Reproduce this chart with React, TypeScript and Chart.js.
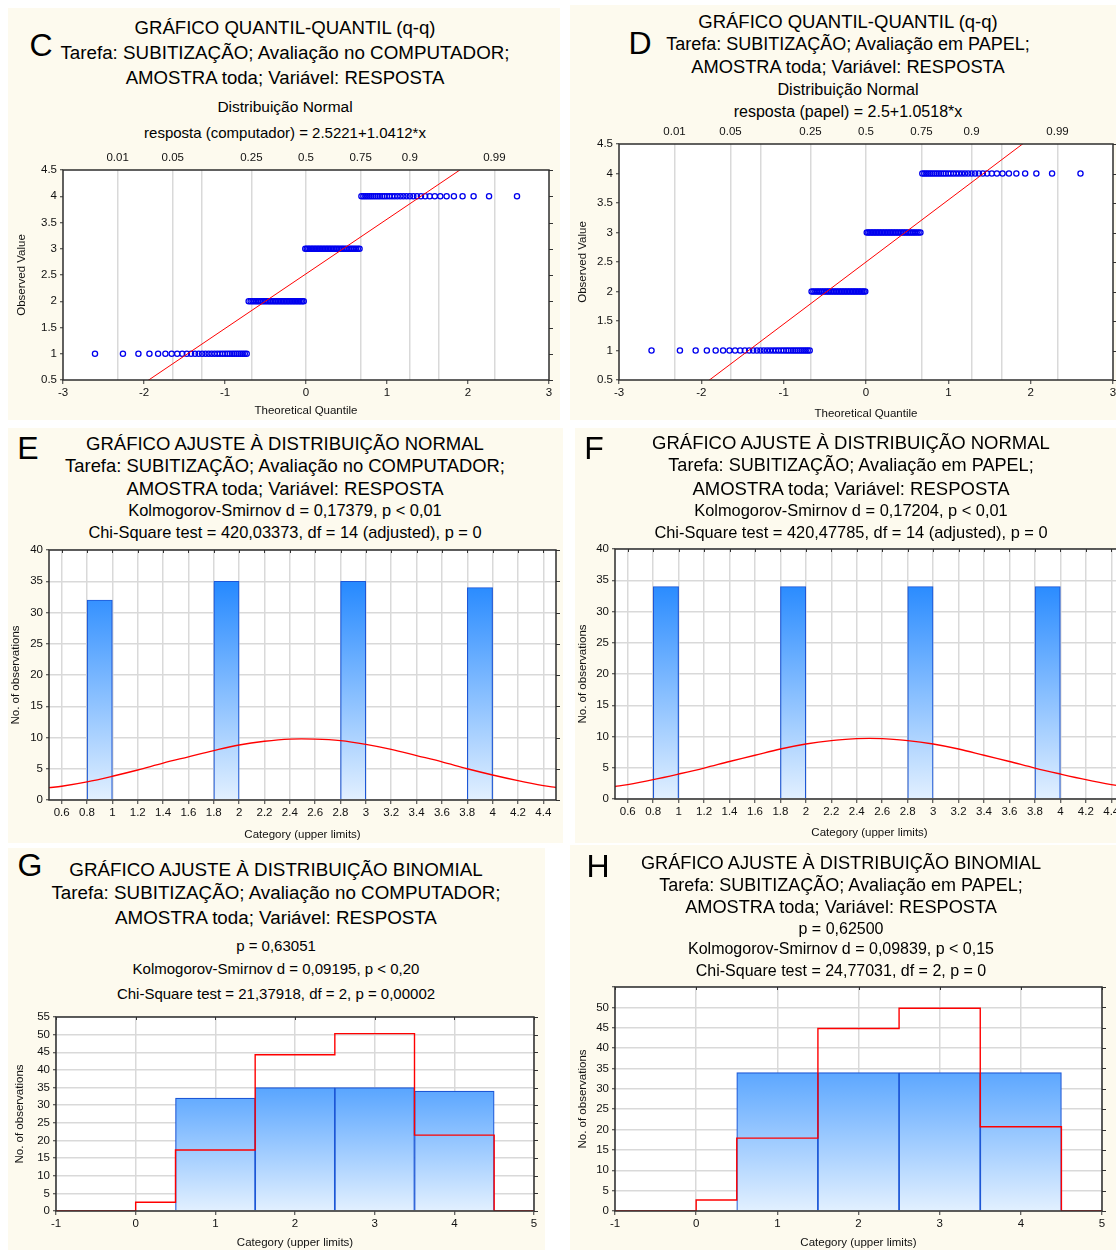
import React, { useEffect, useRef } from "react";
import { Chart, registerables } from "chart.js";

Chart.register(...registerables);

const FONT = '"Liberation Sans", Arial, Helvetica, sans-serif';
const GRID = "#d9d9d9";
const CREAM = "#fdfaee";
const INK = "#111111";

// ---------------- Q-Q plots (C, D) ----------------
const theoreticalQuantiles = [
  -2.605, -2.26, -2.069, -1.933, -1.826, -1.736, -1.658, -1.59, -1.528, -1.471,
  -1.419, -1.37, -1.325, -1.282, -1.241, -1.202, -1.165, -1.129, -1.095, -1.062,
  -1.03, -0.999, -0.969, -0.941, -0.912, -0.885, -0.858, -0.832, -0.806, -0.781,
  -0.756, -0.732, -0.708, -0.684, -0.661, -0.639, -0.616, -0.594, -0.573, -0.551,
  -0.53, -0.509, -0.488, -0.467, -0.447, -0.427, -0.406, -0.386, -0.366, -0.347,
  -0.327, -0.308, -0.289, -0.27, -0.251, -0.232, -0.213, -0.194, -0.175, -0.157,
  -0.138, -0.12, -0.101, -0.083, -0.065, -0.046, -0.028, -0.009,
  0.009, 0.028, 0.046, 0.065, 0.083, 0.101, 0.12, 0.138, 0.157, 0.175,
  0.194, 0.213, 0.232, 0.251, 0.27, 0.289, 0.308, 0.327, 0.347, 0.366,
  0.386, 0.406, 0.427, 0.447, 0.467, 0.488, 0.509, 0.53, 0.551, 0.573,
  0.594, 0.616, 0.639, 0.661, 0.684, 0.708, 0.732, 0.756, 0.781, 0.806,
  0.832, 0.858, 0.885, 0.912, 0.941, 0.969, 0.999, 1.03, 1.062, 1.095,
  1.129, 1.165, 1.202, 1.241, 1.282, 1.325, 1.37, 1.419, 1.471, 1.528,
  1.59, 1.658, 1.736, 1.826, 1.933, 2.069, 2.26, 2.605,
];
const observedLevels = [1, 2, 3, 4];
const qqCountsComputador = [32, 35, 35, 34];
const qqCountsPapel = [34, 34, 34, 34];
const qqFitComputador = [2.5221, 1.0412]; // intercept, slope
const qqFitPapel = [2.5, 1.0518];
const qqXRange = [-3, 3];
const qqYRange = [0.5, 4.5];
const probGridZ = [-2.326, -1.645, -1.282, -0.674, 0, 0.674, 1.282, 1.645, 2.326];
const probGridLabels = ["0.01", "0.05", "", "0.25", "0.5", "0.75", "0.9", "", "0.99"];

// ---------------- Normal fit histograms (E, F) ----------------
const histCategories = [0.9, 1.9, 2.9, 3.9];
const histCountsComputador = [32, 35, 35, 34];
const histCountsPapel = [34, 34, 34, 34];
const histXTicks = [0.6, 0.8, 1, 1.2, 1.4, 1.6, 1.8, 2, 2.2, 2.4, 2.6, 2.8, 3, 3.2, 3.4, 3.6, 3.8, 4, 4.2, 4.4];
const normalCurveXComputador = [0.5, 0.6, 0.8, 1, 1.2, 1.4, 1.6, 1.8, 2, 2.2, 2.4, 2.6, 2.8, 3, 3.2, 3.4, 3.6, 3.8, 4, 4.2, 4.4, 4.5];
const normalCurveYComputador = [1.97, 2.2, 2.9, 3.8, 4.8, 5.9, 6.9, 7.9, 8.8, 9.4, 9.75, 9.75, 9.5, 8.9, 8.1, 7.1, 6.1, 5.0, 4.0, 3.1, 2.3, 2.0];
const normalCurveXPapel = [0.5, 0.6, 0.8, 1, 1.2, 1.4, 1.6, 1.8, 2, 2.2, 2.4, 2.5, 2.6, 2.8, 3, 3.2, 3.4, 3.6, 3.8, 4, 4.2, 4.4, 4.5];
const normalCurveYPapel = [2.0, 2.3, 3.1, 4.0, 4.95, 6.0, 7.0, 8.0, 8.8, 9.35, 9.65, 9.7, 9.65, 9.35, 8.8, 8.0, 7.0, 6.0, 4.95, 4.0, 3.1, 2.3, 2.0];

// ---------------- Binomial fit (G, H) ----------------
const binomCategories = [1, 2, 3, 4];
const binomCountsComputador = [32, 35, 35, 34];
const binomCountsPapel = [34, 34, 34, 34];
const binomStepX = [-1, 0, 0.5, 1.5, 2.5, 3.5, 4.5, 5];
const binomExpectedComputador = [0, 2.5, 17.3, 44.3, 50.3, 21.5, 0, 0];
const binomExpectedPapel = [0, 2.7, 17.9, 44.8, 49.8, 20.7, 0, 0];

type Geo = { W: number; T: number; R: number; B: number };
type Box = { l: number; t: number; r: number; b: number };

const tickFont = { family: FONT, size: 11.5 };
const axisTitleFont = { family: FONT, size: 11.5 };
const numFormat = { minimumFractionDigits: 0, maximumFractionDigits: 1 };

function fixWidth(w: number) {
  return (s: any) => {
    s.width = w;
    s.paddingTop = 0; s.paddingBottom = 0; s.paddingLeft = 0; s.paddingRight = 0;
  };
}
function fixHeight(h: number) {
  return (s: any) => {
    s.height = h;
    s.paddingTop = 0; s.paddingBottom = 0; s.paddingLeft = 0; s.paddingRight = 0;
  };
}

function leftAxis(geo: Geo, min: number, max: number, step: number, title: string, titlePad: number, gridOn: boolean, hideMax = false) {
  const ticks: any = { stepSize: step, autoSkip: false, font: tickFont, color: INK, padding: 3, format: numFormat };
  if (hideMax) ticks.callback = (v: number) => (v === max ? "" : String(v));
  return {
    type: "linear", position: "left", min, max,
    ticks,
    grid: { drawOnChartArea: gridOn, color: GRID, lineWidth: 1.5, drawTicks: true, tickLength: 3, tickColor: "#333", tickWidth: 1 },
    border: { display: false },
    title: { display: true, text: title, font: axisTitleFont, color: INK, padding: { top: titlePad, bottom: 0 } },
    afterFit: fixWidth(geo.W),
  };
}

function bottomAxis(geo: Geo, min: number, max: number, title: string, titlePad: number, gridOn: boolean, step?: number, tickList?: number[]) {
  const ax: any = {
    type: "linear", position: "bottom", min, max, offset: false,
    ticks: { stepSize: step, autoSkip: false, maxRotation: 0, font: tickFont, color: INK, padding: 2, format: numFormat },
    grid: { offset: false, drawOnChartArea: gridOn, color: GRID, lineWidth: 1.5, drawTicks: true, tickLength: 4, tickColor: "#333", tickWidth: 1 },
    border: { display: false },
    title: { display: true, text: title, font: axisTitleFont, color: INK, padding: { top: 0, bottom: titlePad } },
    afterFit: fixHeight(geo.B),
  };
  if (tickList) ax.afterBuildTicks = (s: any) => { s.ticks = tickList.map((v) => ({ value: v })); };
  return ax;
}

const framePlugin = {
  id: "frame",
  beforeDraw(chart: any) {
    const { ctx, chartArea: a } = chart;
    ctx.save();
    ctx.fillStyle = "#ffffff";
    ctx.fillRect(a.left, a.top, a.right - a.left, a.bottom - a.top);
    ctx.restore();
  },
  afterDatasetsDraw(chart: any, _args: any, opts: any) {
    const { ctx, chartArea: a } = chart;
    ctx.save();
    ctx.strokeStyle = "#333333";
    ctx.lineWidth = 1;
    ctx.beginPath();
    const y = chart.scales.y;
    y.ticks.forEach((_t: any, i: number) => {
      const py = Math.round(y.getPixelForTick(i)) + 0.5;
      ctx.moveTo(a.right, py);
      ctx.lineTo(a.right + 4, py);
    });
    if (opts && opts.topTicks) {
      const x = chart.scales.x;
      x.ticks.forEach((_t: any, i: number) => {
        const px = Math.round(x.getPixelForTick(i)) + 0.5;
        ctx.moveTo(px, a.top);
        ctx.lineTo(px, a.top + 3);
      });
    }
    ctx.stroke();
    ctx.lineWidth = 1.5;
    ctx.strokeStyle = "#2e2e2e";
    ctx.strokeRect(a.left, a.top, a.right - a.left, a.bottom - a.top);
    ctx.restore();
  },
};

function baseOptions(geo: Geo, hasTopAxis: boolean, topTicks: boolean) {
  return {
    responsive: false,
    animation: false,
    devicePixelRatio: 1,
    events: [],
    layout: { padding: { left: 0, right: geo.R, top: hasTopAxis ? 0 : geo.T, bottom: 0 } },
    plugins: { legend: { display: false }, tooltip: { enabled: false }, frame: { topTicks } },
  };
}

const barGradient = (context: any) => {
  const { chart } = context;
  const { ctx, chartArea } = chart;
  if (!chartArea) return "#5aa8ff";
  const g = ctx.createLinearGradient(0, chartArea.top, 0, chartArea.bottom);
  g.addColorStop(0, "#0a7aff");
  g.addColorStop(1, "#e2f0ff");
  return g;
};
const BAR_BORDER = "#1d57d6";

function qqConfig(counts: number[], fit: number[], yTitlePad: number, xTitlePad: number) {
  return (geo: Geo) => {
    const points: { x: number; y: number }[] = [];
    let k = 0;
    counts.forEach((c, li) => {
      for (let j = 0; j < c; j++) {
        points.push({ x: theoreticalQuantiles[k], y: observedLevels[li] });
        k++;
      }
    });
    const line = qqXRange.map((x) => ({ x, y: fit[0] + fit[1] * x }));
    return {
      type: "scatter",
      data: {
        datasets: [
          { type: "line", data: line, borderColor: "#ff0000", borderWidth: 1, pointRadius: 0, fill: false },
          { type: "scatter", data: points, pointStyle: "circle", pointRadius: 2.6, borderColor: "#0000ee", backgroundColor: "rgba(255,255,255,0)", borderWidth: 1.3 },
        ],
      },
      options: {
        ...baseOptions(geo, true, false),
        scales: {
          x: bottomAxis(geo, qqXRange[0], qqXRange[1], "Theoretical Quantile", xTitlePad, false, 1),
          xTop: {
            type: "linear", position: "top", min: qqXRange[0], max: qqXRange[1],
            afterBuildTicks: (s: any) => { s.ticks = probGridZ.map((v) => ({ value: v })); },
            ticks: { autoSkip: false, maxRotation: 0, font: tickFont, color: INK, padding: 5, callback: (_v: number, i: number) => probGridLabels[i] },
            grid: { drawOnChartArea: true, drawTicks: false, color: GRID, lineWidth: 1.5 },
            border: { display: false },
            afterFit: fixHeight(geo.T),
          },
          y: leftAxis(geo, qqYRange[0], qqYRange[1], 0.5, "Observed Value", yTitlePad, false),
        },
      },
      plugins: [framePlugin],
    };
  };
}

function histConfig(counts: number[], curveX: number[], curveY: number[], yTitlePad: number, xTitlePad: number) {
  return (geo: Geo) => ({
    type: "bar",
    data: {
      datasets: [
        { type: "line", data: curveX.map((x, i) => ({ x, y: curveY[i] })), borderColor: "#ff0000", borderWidth: 1.3, pointRadius: 0, tension: 0.35, fill: false },
        { type: "bar", data: histCategories.map((x, i) => ({ x, y: counts[i] })), backgroundColor: barGradient, borderColor: BAR_BORDER, borderWidth: 1.2, barPercentage: 1, categoryPercentage: 1 },
      ],
    },
    options: {
      ...baseOptions(geo, false, true),
      scales: {
        x: bottomAxis(geo, 0.5, 4.5, "Category (upper limits)", xTitlePad, true, undefined, histXTicks),
        y: leftAxis(geo, 0, 40, 5, "No. of observations", yTitlePad, true),
      },
    },
    plugins: [framePlugin],
  });
}

function binomConfig(counts: number[], expected: number[], yTitlePad: number, xTitlePad: number, hideMax: boolean) {
  return (geo: Geo) => ({
    type: "bar",
    data: {
      datasets: [
        { type: "line", data: binomStepX.map((x, i) => ({ x, y: expected[i] })), stepped: "before", borderColor: "#ff0000", borderWidth: 1.4, pointRadius: 0, fill: false },
        { type: "bar", data: binomCategories.map((x, i) => ({ x, y: counts[i] })), backgroundColor: barGradient, borderColor: BAR_BORDER, borderWidth: 1.2, barPercentage: 1, categoryPercentage: 1 },
      ],
    },
    options: {
      ...baseOptions(geo, false, true),
      scales: {
        x: bottomAxis(geo, -1, 5, "Category (upper limits)", xTitlePad, true, 1),
        y: leftAxis(geo, 0, 55, 5, "No. of observations", yTitlePad, true, hideMax),
      },
    },
    plugins: [framePlugin],
  });
}

function ChartCanvas({ canvas, plot, make }: { canvas: Box; plot: Box; make: (g: Geo) => any }) {
  const ref = useRef<HTMLCanvasElement | null>(null);
  const w = canvas.r - canvas.l;
  const h = canvas.b - canvas.t;
  useEffect(() => {
    if (!ref.current) return;
    const geo: Geo = { W: plot.l - canvas.l, T: plot.t - canvas.t, R: canvas.r - plot.r, B: canvas.b - plot.b };
    const chart = new Chart(ref.current, make(geo) as any);
    return () => chart.destroy();
  }, []);
  return (
    <canvas
      ref={ref}
      width={w}
      height={h}
      style={{ position: "absolute", left: canvas.l, top: canvas.t, width: w, height: h }}
    />
  );
}

type Line = [string, number, number];
type PanelDef = {
  bg: { l: number; t: number; w: number; h: number };
  letter: [string, number, number];
  cx: number;
  lines: Line[];
  canvas: Box;
  plot: Box;
  make: (g: Geo) => any;
};

const T_COMP = "Tarefa: SUBITIZAÇÃO; Avaliação no COMPUTADOR;";
const T_PAP = "Tarefa: SUBITIZAÇÃO; Avaliação em PAPEL;";
const T_AMO = "AMOSTRA toda; Variável: RESPOSTA";

const panels: PanelDef[] = [
  {
    bg: { l: 8, t: 8, w: 552, h: 412 },
    letter: ["C", 41, 45],
    cx: 285,
    lines: [
      ["GRÁFICO QUANTIL-QUANTIL (q-q)", 28, 18.6],
      [T_COMP, 53, 18.8],
      [T_AMO, 78, 18.6],
      ["Distribuição Normal", 107, 15.5],
      ["resposta (computador) = 2.5221+1.0412*x", 133, 15],
    ],
    canvas: { l: 8, t: 145, r: 560, b: 420 },
    plot: { l: 63, t: 170, r: 549, b: 380 },
    make: qqConfig(qqCountsComputador, qqFitComputador, 7.4, 2.4),
  },
  {
    bg: { l: 570, t: 5, w: 546, h: 415 },
    letter: ["D", 640, 43],
    cx: 848,
    lines: [
      ["GRÁFICO QUANTIL-QUANTIL (q-q)", 22, 18.5],
      [T_PAP, 45, 18],
      [T_AMO, 67, 18.3],
      ["Distribuição Normal", 90, 16.2],
      ["resposta (papel) = 2.5+1.0518*x", 112, 16],
    ],
    canvas: { l: 570, t: 120, r: 1130, b: 422 },
    plot: { l: 619, t: 144, r: 1113, b: 380 },
    make: qqConfig(qqCountsPapel, qqFitPapel, 6.4, 1.4),
  },
  {
    bg: { l: 8, t: 428, w: 555, h: 415 },
    letter: ["E", 28, 448],
    cx: 285,
    lines: [
      ["GRÁFICO AJUSTE À DISTRIBUIÇÃO NORMAL", 444, 18.5],
      [T_COMP, 466, 18.4],
      [T_AMO, 489, 18.5],
      ["Kolmogorov-Smirnov d = 0,17379, p < 0,01", 511, 16.4],
      ["Chi-Square test = 420,03373, df = 14 (adjusted), p = 0", 533, 16.4],
    ],
    canvas: { l: 8, t: 540, r: 563, b: 843 },
    plot: { l: 49, t: 550, r: 556, b: 800 },
    make: histConfig(histCountsComputador, normalCurveXComputador, normalCurveYComputador, 1.4, 1.4),
  },
  {
    bg: { l: 575, t: 428, w: 541, h: 415 },
    letter: ["F", 594, 448],
    cx: 851,
    lines: [
      ["GRÁFICO AJUSTE À DISTRIBUIÇÃO NORMAL", 443, 18.5],
      [T_PAP, 466, 18.1],
      [T_AMO, 489, 18.5],
      ["Kolmogorov-Smirnov d = 0,17204, p < 0,01", 511, 16.4],
      ["Chi-Square test = 420,47785, df = 14 (adjusted), p = 0", 533, 16.4],
    ],
    canvas: { l: 575, t: 539, r: 1135, b: 843 },
    plot: { l: 615, t: 549, r: 1124, b: 799 },
    make: histConfig(histCountsPapel, normalCurveXPapel, normalCurveYPapel, 1.4, 3.4),
  },
  {
    bg: { l: 8, t: 848, w: 537, h: 402 },
    letter: ["G", 30, 865],
    cx: 276,
    lines: [
      ["GRÁFICO AJUSTE À DISTRIBUIÇÃO BINOMIAL", 870, 18.8],
      [T_COMP, 893, 18.8],
      [T_AMO, 918, 18.8],
      ["p = 0,63051", 946, 15],
      ["Kolmogorov-Smirnov d = 0,09195, p < 0,20", 969, 15],
      ["Chi-Square test = 21,37918, df = 2, p = 0,00002", 994, 15],
    ],
    canvas: { l: 8, t: 1007, r: 545, b: 1250 },
    plot: { l: 56, t: 1017, r: 534, b: 1211 },
    make: binomConfig(binomCountsComputador, binomExpectedComputador, 5.4, 0.4, false),
  },
  {
    bg: { l: 570, t: 845, w: 546, h: 405 },
    letter: ["H", 598, 866],
    cx: 841,
    lines: [
      ["GRÁFICO AJUSTE À DISTRIBUIÇÃO BINOMIAL", 864, 18.2],
      [T_PAP, 886, 18],
      [T_AMO, 908, 18.2],
      ["p = 0,62500", 929, 16],
      ["Kolmogorov-Smirnov d = 0,09839, p < 0,15", 949, 16],
      ["Chi-Square test = 24,77031, df = 2, p = 0", 971, 16],
    ],
    canvas: { l: 570, t: 977, r: 1116, b: 1250 },
    plot: { l: 615, t: 987, r: 1102, b: 1211 },
    make: binomConfig(binomCountsPapel, binomExpectedPapel, 6.4, 0.4, true),
  },
];

function Panel({ p }: { p: PanelDef }) {
  return (
    <>
      <div style={{ position: "absolute", left: p.bg.l, top: p.bg.t, width: p.bg.w, height: p.bg.h, background: CREAM }} />
      <div
        style={{
          position: "absolute", left: p.letter[1] - 25, top: p.letter[2] - 20, width: 50, height: 40,
          lineHeight: "40px", textAlign: "center", fontSize: 32, fontFamily: FONT, color: "#000",
        }}
      >
        {p.letter[0]}
      </div>
      {p.lines.map(([text, y, size], i) => (
        <div
          key={i}
          style={{
            position: "absolute", left: p.cx - 300, width: 600, top: y - size * 0.6, height: size * 1.2,
            lineHeight: `${size * 1.2}px`, fontSize: size, textAlign: "center", fontFamily: FONT,
            color: "#000", whiteSpace: "nowrap",
          }}
        >
          {text}
        </div>
      ))}
      <ChartCanvas canvas={p.canvas} plot={p.plot} make={p.make} />
    </>
  );
}

export default function App() {
  return (
    <div
      style={{
        position: "absolute", left: 0, top: 0, width: 1116, height: 1250, overflow: "hidden",
        background: "#ffffff", fontFamily: FONT,
      }}
    >
      {panels.map((p, i) => (
        <Panel key={i} p={p} />
      ))}
    </div>
  );
}
